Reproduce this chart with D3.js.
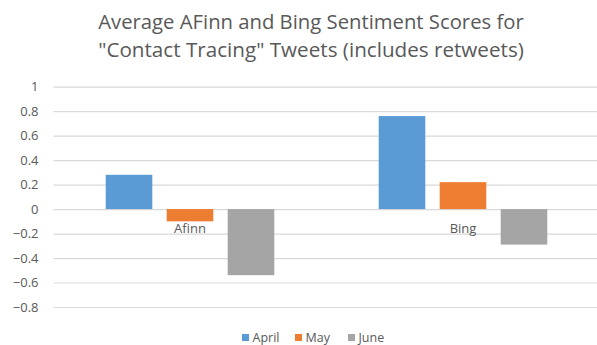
<!DOCTYPE html>
<html>
<head>
<meta charset="utf-8">
<script src="https://cdn.jsdelivr.net/npm/d3@7"></script>
<style>
  html, body { margin: 0; padding: 0; background: #fff; }
  svg { display: block; font-family: "Open Sans", "Noto Sans", sans-serif; }
</style>
</head>
<body>
<svg id="chart" width="597" height="345"></svg>
<script>
// Sentiment lexicons shown as category groups
const categories = ["Afinn", "Bing"];
// Months shown as series
const months = ["April", "May", "June"];
// Average score per lexicon for each month
const april = [0.28, 0.76];
const may = [-0.10, 0.22];
const june = [-0.54, -0.29];
const yTicks = [1, 0.8, 0.6, 0.4, 0.2, 0, -0.2, -0.4, -0.6, -0.8];
const titleLines = ["Average AFinn and Bing Sentiment Scores for",
                    "\"Contact Tracing\" Tweets (includes retweets)"];

const seriesValues = { April: april, May: may, June: june };
const colors = d3.scaleOrdinal().domain(months).range(["#5B9BD5", "#ED7D31", "#A5A5A5"]);

const svg = d3.select("#chart");
const textColor = "#595959";

const plot = { left: 53.5, right: 599.5, top: 86.7, bottom: 307 };

const y = d3.scaleLinear().domain([-0.8, 1]).range([plot.bottom, plot.top]);
const x0 = d3.scaleBand().domain(categories).range([plot.left, plot.right]).padding(0);
const x1 = d3.scaleBand().domain(months).range([0, x0.bandwidth()])
  .paddingInner(0.236).paddingOuter(0.856);

// Title, scaled to a fixed line width
const title = svg.append("g").attr("fill", textColor);
titleLines.forEach((line, i) => {
  const t = title.append("text")
    .attr("x", 311).attr("y", 29 + i * 27.5)
    .attr("text-anchor", "middle")
    .attr("font-size", 19)
    .text(line);
  const w = t.node().getComputedTextLength();
  t.attr("font-size", 19 * 426 / w);
});

// Gridlines and y axis labels
const yAxis = d3.axisLeft(y).tickValues(yTicks)
  .tickSize(-(plot.right - plot.left))
  .tickPadding(15)
  .tickFormat(d => d3.format("")(+d.toFixed(1)));
const gy = svg.append("g").attr("transform", `translate(${plot.left},0)`).call(yAxis);
gy.select(".domain").remove();
gy.selectAll(".tick line").attr("stroke", "#D9D9D9").attr("stroke-width", 1.2);
gy.selectAll(".tick text").attr("fill", textColor).attr("font-size", 13)
  .attr("font-family", "\"Open Sans\", sans-serif");

// Bars
const groups = svg.append("g").selectAll("g").data(categories).join("g")
  .attr("transform", d => `translate(${x0(d)},0)`);
groups.selectAll("rect")
  .data((c, ci) => months.map(m => ({ month: m, value: seriesValues[m][ci] })))
  .join("rect")
  .attr("x", d => x1(d.month))
  .attr("width", x1.bandwidth())
  .attr("y", d => y(Math.max(0, d.value)))
  .attr("height", d => Math.abs(y(d.value) - y(0)))
  .attr("fill", d => colors(d.month));

// Category labels along the zero line
svg.append("g").selectAll("text").data(categories).join("text")
  .attr("x", d => x0(d) + x0.bandwidth() / 2)
  .attr("y", y(0) + 23.5)
  .attr("text-anchor", "middle")
  .attr("font-size", 13)
  .attr("fill", textColor)
  .text(d => d);

// Legend
const legendX = [242, 295, 348];
const legend = svg.append("g").selectAll("g").data(months).join("g")
  .attr("transform", (d, i) => `translate(${legendX[i]},0)`);
legend.append("rect").attr("x", 0).attr("y", 334).attr("width", 7).attr("height", 7)
  .attr("fill", d => colors(d));
legend.append("text").attr("x", 10.5).attr("y", 341.5)
  .attr("font-size", 12.5).attr("fill", textColor).text(d => d);
</script>
</body>
</html>
